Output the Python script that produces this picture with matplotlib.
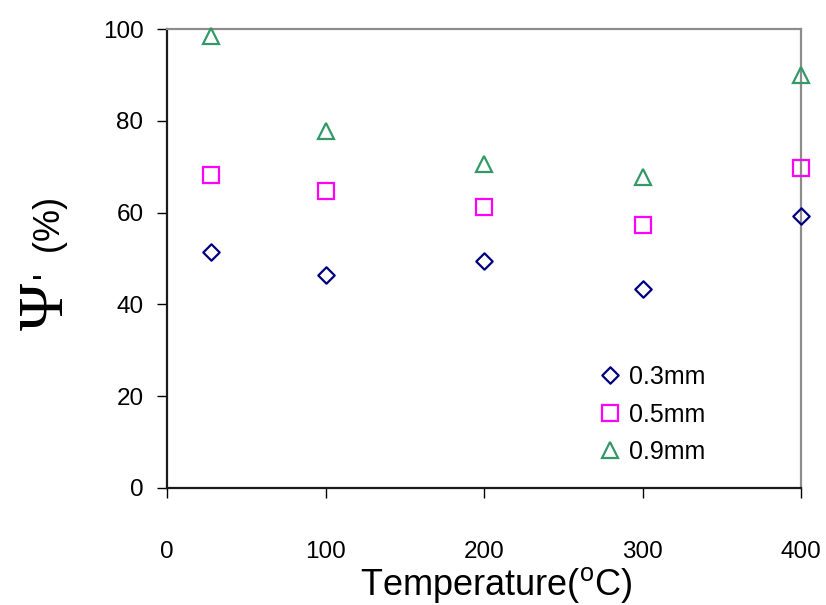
import matplotlib
matplotlib.use('Agg')
import matplotlib.pyplot as plt
from matplotlib.path import Path

# Measured values
temperature = [28, 100, 200, 300, 400]
psi_03 = [51.4, 46.3, 49.5, 43.4, 59.3]
psi_05 = [68.3, 64.6, 61.3, 57.4, 69.8]
psi_09 = [98.5, 77.8, 70.5, 67.7, 90.0]
series_labels = ['0.3mm', '0.5mm', '0.9mm']
x_ticks = [0, 100, 200, 300, 400]
y_ticks = [0, 20, 40, 60, 80, 100]

plt.rcParams['font.family'] = ['Liberation Sans', 'DejaVu Sans']
plt.rcParams['mathtext.fontset'] = 'custom'
plt.rcParams['mathtext.rm'] = 'Liberation Sans'

W, H = 826, 605
fig = plt.figure(figsize=(W / 100, H / 100), dpi=100)
ax = fig.add_axes([167 / W, 1 - 488 / H, 634 / W, 459 / H])

# regular (square) diamond outline
diamond = Path([(0, 1), (1, 0), (0, -1), (-1, 0), (0, 1)],
               [Path.MOVETO, Path.LINETO, Path.LINETO, Path.LINETO, Path.CLOSEPOLY])

styles = [
    dict(marker=diamond, ms=11.8, color='#000080'),
    dict(marker='s', ms=11.6, color='#FF00FF'),
    dict(marker='^', ms=11.6, color='#339966'),
]
handles = []
for vals, st in zip([psi_03, psi_05, psi_09], styles):
    h, = ax.plot(temperature, vals, linestyle='none', marker=st['marker'],
                 ms=st['ms'], mfc='none', mec=st['color'], mew=1.6,
                 clip_on=False, zorder=5)
    handles.append(h)

ax.set_xlim(0, 400)
ax.set_ylim(0, 100)
ax.set_xticks(x_ticks)
ax.set_yticks(y_ticks)
ax.tick_params(axis='both', direction='out', length=7, width=1, color='black',
               labelsize=17.5)
ax.tick_params(axis='x', pad=31)
ax.tick_params(axis='y', pad=10)

for side in ('left', 'bottom'):
    ax.spines[side].set_color('#1a1a1a')
    ax.spines[side].set_linewidth(1.6)
for side in ('top', 'right'):
    ax.spines[side].set_color('#8c8c8c')
    ax.spines[side].set_linewidth(1.6)

ax.set_xlabel(r'Temperature($^{\mathrm{o}}$C)', fontsize=26, va='baseline')
ax.xaxis.set_label_coords((496 - 167) / 634, (488 - 595) / 459)

fig.text(48 / W, 1 - 306 / H, '\u03a8', family='Liberation Serif', fontsize=46,
         rotation=90, ha='center', va='center')
fig.text(50 / W, 1 - 238 / H, "'  (%)", fontsize=26, rotation=90,
         ha='center', va='center')

ax.legend(handles, series_labels, loc='upper left',
          bbox_to_anchor=(600 / W, 1 - 365 / H), bbox_transform=fig.transFigure,
          frameon=False, borderpad=0, borderaxespad=0, handlelength=0.8,
          handletextpad=0.36, labelspacing=0.54, fontsize=18)

fig.savefig('out.png', dpi=100)
